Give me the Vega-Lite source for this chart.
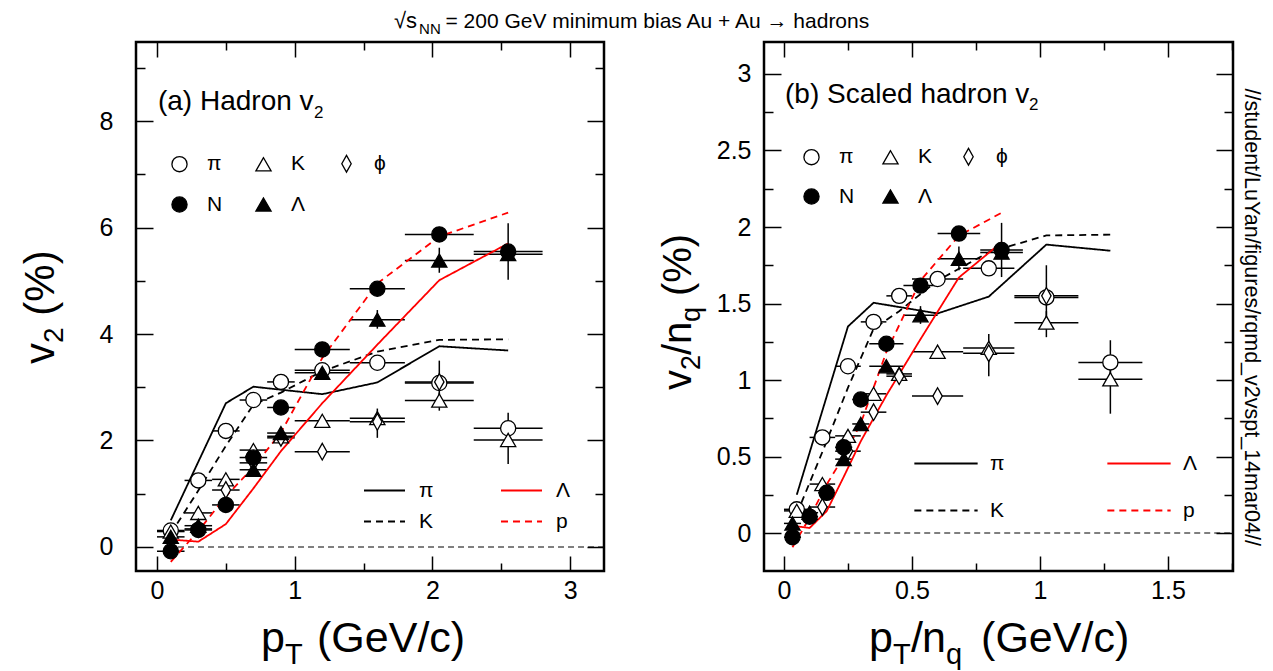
{
"$schema": "https://vega.github.io/schema/vega-lite/v6.json",
"background": "white",
"padding": {"left": 18, "top": 8, "right": 5, "bottom": 5},
"spacing": 160,
"bounds": "flush",
"datasets": {
"pts": [
{"h":"π","pt":0.1,"v2":0.31,"lo":0,"hi":0.2,"ptn":0.05,"v2n":0.155,"lon":0,"hin":0.1},
{"h":"π","pt":0.3,"v2":1.25,"lo":0.2,"hi":0.4,"ptn":0.15,"v2n":0.625,"lon":0.1,"hin":0.2},
{"h":"π","pt":0.5,"v2":2.18,"lo":0.4,"hi":0.6,"ptn":0.25,"v2n":1.09,"lon":0.2,"hin":0.3},
{"h":"π","pt":0.7,"v2":2.76,"lo":0.6,"hi":0.8,"ptn":0.35,"v2n":1.38,"lon":0.3,"hin":0.4},
{"h":"π","pt":0.9,"v2":3.1,"lo":0.8,"hi":1.0,"ptn":0.45,"v2n":1.55,"lon":0.4,"hin":0.5},
{"h":"π","pt":1.2,"v2":3.32,"lo":1.0,"hi":1.4,"ptn":0.6,"v2n":1.66,"lon":0.5,"hin":0.7},
{"h":"π","pt":1.6,"v2":3.46,"lo":1.4,"hi":1.8,"ptn":0.8,"v2n":1.73,"lon":0.7,"hin":0.9},
{"h":"π","pt":2.05,"v2":3.08,"lo":1.8,"hi":2.3,"ptn":1.025,"v2n":1.54,"lon":0.9,"hin":1.15},
{"h":"π","pt":2.55,"v2":2.23,"lo":2.3,"hi":2.8,"ptn":1.275,"v2n":1.115,"lon":1.15,"hin":1.4},
{"h":"K","pt":0.1,"v2":0.29,"lo":0,"hi":0.2,"ptn":0.05,"v2n":0.145,"lon":0,"hin":0.1},
{"h":"K","pt":0.3,"v2":0.64,"lo":0.2,"hi":0.4,"ptn":0.15,"v2n":0.32,"lon":0.1,"hin":0.2},
{"h":"K","pt":0.5,"v2":1.27,"lo":0.4,"hi":0.6,"ptn":0.25,"v2n":0.635,"lon":0.2,"hin":0.3},
{"h":"K","pt":0.7,"v2":1.82,"lo":0.6,"hi":0.8,"ptn":0.35,"v2n":0.91,"lon":0.3,"hin":0.4},
{"h":"K","pt":0.9,"v2":2.08,"lo":0.8,"hi":1.0,"ptn":0.45,"v2n":1.04,"lon":0.4,"hin":0.5},
{"h":"K","pt":1.2,"v2":2.37,"lo":1.0,"hi":1.4,"ptn":0.6,"v2n":1.185,"lon":0.5,"hin":0.7},
{"h":"K","pt":1.6,"v2":2.42,"lo":1.4,"hi":1.8,"ptn":0.8,"v2n":1.21,"lon":0.7,"hin":0.9},
{"h":"K","pt":2.05,"v2":2.75,"lo":1.8,"hi":2.3,"ptn":1.025,"v2n":1.375,"lon":0.9,"hin":1.15},
{"h":"K","pt":2.55,"v2":2.01,"lo":2.3,"hi":2.8,"ptn":1.275,"v2n":1.005,"lon":1.15,"hin":1.4},
{"h":"ϕ","pt":0.3,"v2":0.34,"lo":0.2,"hi":0.4,"ptn":0.15,"v2n":0.17,"lon":0.1,"hin":0.2},
{"h":"ϕ","pt":0.5,"v2":1.07,"lo":0.4,"hi":0.6,"ptn":0.25,"v2n":0.535,"lon":0.2,"hin":0.3},
{"h":"ϕ","pt":0.7,"v2":1.58,"lo":0.6,"hi":0.8,"ptn":0.35,"v2n":0.79,"lon":0.3,"hin":0.4},
{"h":"ϕ","pt":0.9,"v2":2.05,"lo":0.8,"hi":1.0,"ptn":0.45,"v2n":1.025,"lon":0.4,"hin":0.5},
{"h":"ϕ","pt":1.2,"v2":1.79,"lo":1.0,"hi":1.4,"ptn":0.6,"v2n":0.895,"lon":0.5,"hin":0.7},
{"h":"ϕ","pt":1.6,"v2":2.35,"lo":1.4,"hi":1.8,"ptn":0.8,"v2n":1.175,"lon":0.7,"hin":0.9},
{"h":"ϕ","pt":2.05,"v2":3.1,"lo":1.8,"hi":2.3,"ptn":1.025,"v2n":1.55,"lon":0.9,"hin":1.15},
{"h":"N","pt":0.1,"v2":-0.08,"lo":0,"hi":0.2,"ptn":0.0333,"v2n":-0.027,"lon":0,"hin":0.0667},
{"h":"N","pt":0.3,"v2":0.32,"lo":0.2,"hi":0.4,"ptn":0.1,"v2n":0.107,"lon":0.0667,"hin":0.1333},
{"h":"N","pt":0.5,"v2":0.79,"lo":0.4,"hi":0.6,"ptn":0.1667,"v2n":0.263,"lon":0.1333,"hin":0.2},
{"h":"N","pt":0.7,"v2":1.68,"lo":0.6,"hi":0.8,"ptn":0.2333,"v2n":0.56,"lon":0.2,"hin":0.2667},
{"h":"N","pt":0.9,"v2":2.62,"lo":0.8,"hi":1.0,"ptn":0.3,"v2n":0.873,"lon":0.2667,"hin":0.3333},
{"h":"N","pt":1.2,"v2":3.71,"lo":1.0,"hi":1.4,"ptn":0.4,"v2n":1.237,"lon":0.3333,"hin":0.4667},
{"h":"N","pt":1.6,"v2":4.85,"lo":1.4,"hi":1.8,"ptn":0.5333,"v2n":1.617,"lon":0.4667,"hin":0.6},
{"h":"N","pt":2.05,"v2":5.87,"lo":1.8,"hi":2.3,"ptn":0.6833,"v2n":1.957,"lon":0.6,"hin":0.7667},
{"h":"N","pt":2.55,"v2":5.55,"lo":2.3,"hi":2.8,"ptn":0.85,"v2n":1.85,"lon":0.7667,"hin":0.9333},
{"h":"Λ","pt":0.1,"v2":0.19,"lo":0,"hi":0.2,"ptn":0.0333,"v2n":0.063,"lon":0,"hin":0.0667},
{"h":"Λ","pt":0.3,"v2":0.4,"lo":0.2,"hi":0.4,"ptn":0.1,"v2n":0.133,"lon":0.0667,"hin":0.1333},
{"h":"Λ","pt":0.7,"v2":1.45,"lo":0.6,"hi":0.8,"ptn":0.2333,"v2n":0.483,"lon":0.2,"hin":0.2667},
{"h":"Λ","pt":0.9,"v2":2.14,"lo":0.8,"hi":1.0,"ptn":0.3,"v2n":0.713,"lon":0.2667,"hin":0.3333},
{"h":"Λ","pt":1.2,"v2":3.27,"lo":1.0,"hi":1.4,"ptn":0.4,"v2n":1.09,"lon":0.3333,"hin":0.4667},
{"h":"Λ","pt":1.6,"v2":4.27,"lo":1.4,"hi":1.8,"ptn":0.5333,"v2n":1.423,"lon":0.4667,"hin":0.6},
{"h":"Λ","pt":2.05,"v2":5.38,"lo":1.8,"hi":2.3,"ptn":0.6833,"v2n":1.793,"lon":0.6,"hin":0.7667},
{"h":"Λ","pt":2.55,"v2":5.5,"lo":2.3,"hi":2.8,"ptn":0.85,"v2n":1.833,"lon":0.7667,"hin":0.9333}
],
"yerr": [
{"h":"π","pt":2.05,"lo":2.75,"hi":3.5,"ptn":1.025,"lon":1.375,"hin":1.75},
{"h":"K","pt":2.05,"lo":2.56,"hi":2.9,"ptn":1.025,"lon":1.28,"hin":1.45},
{"h":"π","pt":2.55,"lo":2.0,"hi":2.52,"ptn":1.275,"lon":1.0,"hin":1.26},
{"h":"K","pt":2.55,"lo":1.56,"hi":2.2,"ptn":1.275,"lon":0.78,"hin":1.1},
{"h":"ϕ","pt":1.6,"lo":2.05,"hi":2.6,"ptn":0.8,"lon":1.025,"hin":1.3},
{"h":"N","pt":2.55,"lo":5.02,"hi":6.08,"ptn":0.85,"lon":1.673,"hin":2.027},
{"h":"Λ","pt":2.05,"lo":5.15,"hi":5.62,"ptn":0.6833,"lon":1.717,"hin":1.873},
{"h":"Λ","pt":1.6,"lo":4.1,"hi":4.45,"ptn":0.5333,"lon":1.367,"hin":1.483}
],
"models": [
{"m":"π","pt":0.1,"v2":0.5,"ptn":0.05,"v2n":0.25},
{"m":"π","pt":0.3,"v2":1.6,"ptn":0.15,"v2n":0.8},
{"m":"π","pt":0.5,"v2":2.7,"ptn":0.25,"v2n":1.35},
{"m":"π","pt":0.7,"v2":3.01,"ptn":0.35,"v2n":1.505},
{"m":"π","pt":1.2,"v2":2.87,"ptn":0.6,"v2n":1.435},
{"m":"π","pt":1.6,"v2":3.09,"ptn":0.8,"v2n":1.545},
{"m":"π","pt":2.05,"v2":3.77,"ptn":1.025,"v2n":1.885},
{"m":"π","pt":2.55,"v2":3.69,"ptn":1.275,"v2n":1.845},
{"m":"K","pt":0.1,"v2":0.25,"ptn":0.05,"v2n":0.125},
{"m":"K","pt":0.3,"v2":1.06,"ptn":0.15,"v2n":0.53},
{"m":"K","pt":0.5,"v2":1.9,"ptn":0.25,"v2n":0.95},
{"m":"K","pt":0.7,"v2":2.67,"ptn":0.35,"v2n":1.335},
{"m":"K","pt":0.9,"v2":2.9,"ptn":0.45,"v2n":1.45},
{"m":"K","pt":1.2,"v2":3.3,"ptn":0.6,"v2n":1.65},
{"m":"K","pt":1.6,"v2":3.67,"ptn":0.8,"v2n":1.835},
{"m":"K","pt":2.05,"v2":3.89,"ptn":1.025,"v2n":1.945},
{"m":"K","pt":2.55,"v2":3.9,"ptn":1.275,"v2n":1.95},
{"m":"Λ","pt":0.1,"v2":0.14,"ptn":0.0333,"v2n":0.047},
{"m":"Λ","pt":0.3,"v2":0.1,"ptn":0.1,"v2n":0.033},
{"m":"Λ","pt":0.5,"v2":0.43,"ptn":0.1667,"v2n":0.143},
{"m":"Λ","pt":0.7,"v2":1.1,"ptn":0.2333,"v2n":0.367},
{"m":"Λ","pt":0.9,"v2":1.8,"ptn":0.3,"v2n":0.6},
{"m":"Λ","pt":1.2,"v2":2.7,"ptn":0.4,"v2n":0.9},
{"m":"Λ","pt":1.6,"v2":3.8,"ptn":0.5333,"v2n":1.267},
{"m":"Λ","pt":2.05,"v2":5.01,"ptn":0.6833,"v2n":1.67},
{"m":"Λ","pt":2.55,"v2":5.7,"ptn":0.85,"v2n":1.9},
{"m":"p","pt":0.1,"v2":-0.28,"ptn":0.0333,"v2n":-0.093},
{"m":"p","pt":0.3,"v2":0.3,"ptn":0.1,"v2n":0.1},
{"m":"p","pt":0.5,"v2":0.95,"ptn":0.1667,"v2n":0.317},
{"m":"p","pt":0.7,"v2":1.5,"ptn":0.2333,"v2n":0.5},
{"m":"p","pt":0.9,"v2":2.15,"ptn":0.3,"v2n":0.717},
{"m":"p","pt":1.2,"v2":3.55,"ptn":0.4,"v2n":1.183},
{"m":"p","pt":1.6,"v2":4.95,"ptn":0.5333,"v2n":1.65},
{"m":"p","pt":2.05,"v2":5.83,"ptn":0.6833,"v2n":1.943},
{"m":"p","pt":2.55,"v2":6.28,"ptn":0.85,"v2n":2.093}
]
},
"resolve": {
 "scale": {"x":"independent","y":"independent","color":"independent","strokeDash":"independent","shape":"independent","fill":"independent","stroke":"independent"},
 "legend": {"color":"independent","strokeDash":"independent","shape":"independent","fill":"independent","stroke":"independent"}
},
"hconcat": [
{
"width": 468, "height": 529,
"resolve": {"axis": {"x":"independent","y":"independent"}},
"layer": [
{"data":{"name":"pts"},"mark":{"type":"point","opacity":0},
 "encoding":{
  "x":{"field":"pt","type":"quantitative","scale":{"domain":[-0.1525,3.246],"nice":false,"zero":false},
   "axis":{"orient":"top","values":[0,0.5,1,1.5,2,2.5,3],"labels":false,"title":null,"domain":false,"grid":false,"tickColor":"black","tickWidth":1.5,"tickSize":{"condition":{"test":"datum.value % 1 === 0","value":-15},"value":-8}}},
  "y":{"field":"v2","type":"quantitative","scale":{"domain":[-0.451,9.484],"nice":false,"zero":false},
   "axis":{"orient":"right","values":[0,1,2,3,4,5,6,7,8,9],"labels":false,"title":null,"domain":false,"grid":false,"tickColor":"black","tickWidth":1.5,"tickSize":{"condition":{"test":"datum.value % 2 === 0","value":-17},"value":-9}}}}},
{"data":{"values":[{}]},"mark":{"type":"rule","color":"black","strokeWidth":1.1,"strokeDash":[6,4]},
 "encoding":{
  "x":{"datum":0.08,"type":"quantitative","scale":{"domain":[-0.1525,3.246],"nice":false,"zero":false},"axis":null},
  "x2":{"datum":3.246},
  "y":{"datum":0,"type":"quantitative","scale":{"domain":[-0.451,9.484],"nice":false,"zero":false},"axis":null}}},
{"data":{"name":"pts"},"mark":{"type":"rule","color":"black","strokeWidth":1.5},
 "encoding":{
  "x":{"field":"lo","type":"quantitative","scale":{"domain":[-0.1525,3.246],"nice":false,"zero":false},"axis":null},
  "x2":{"field":"hi"},
  "y":{"field":"v2","type":"quantitative","scale":{"domain":[-0.451,9.484],"nice":false,"zero":false},"axis":null}}},
{"data":{"name":"yerr"},"mark":{"type":"rule","color":"black","strokeWidth":1.5},
 "encoding":{
  "x":{"field":"pt","type":"quantitative","scale":{"domain":[-0.1525,3.246],"nice":false,"zero":false},"axis":null},
  "y":{"field":"lo","type":"quantitative","scale":{"domain":[-0.451,9.484],"nice":false,"zero":false},"axis":null},
  "y2":{"field":"hi"}}},
{"data":{"name":"models"},"mark":{"type":"line","strokeWidth":1.8},
 "encoding":{
  "x":{"field":"pt","type":"quantitative","scale":{"domain":[-0.1525,3.246],"nice":false,"zero":false},"axis":null},
  "y":{"field":"v2","type":"quantitative","scale":{"domain":[-0.451,9.484],"nice":false,"zero":false},"axis":null},
  "color":{"field":"m","type":"nominal","scale":{"domain":["π","Λ","K","p"],"range":["black","#ff0000","black","#ff0000"]},
   "legend":{"orient":"none","legendX":227,"legendY":438,"direction":"horizontal","columns":2,"title":null,"symbolType":"stroke","symbolSize":1681,"symbolStrokeWidth":2,"labelFontSize":21,"labelOffset":13,"columnPadding":66,"rowPadding":9,"clipHeight":21,"padding":0}},
  "strokeDash":{"field":"m","type":"nominal","scale":{"domain":["π","Λ","K","p"],"range":[[1,0],[1,0],[7,5],[7,5]]},
   "legend":{"orient":"none","legendX":227,"legendY":438,"direction":"horizontal","columns":2,"title":null,"symbolType":"stroke","symbolSize":1681,"symbolStrokeWidth":2,"labelFontSize":21,"labelOffset":13,"columnPadding":66,"rowPadding":9,"clipHeight":21,"padding":0}}}},
{"data":{"name":"pts"},"mark":{"type":"point","filled":true,"strokeWidth":1.3,"size":230,"opacity":1},
 "encoding":{
  "x":{"field":"pt","type":"quantitative","scale":{"domain":[-0.1525,3.246],"nice":false,"zero":false},
   "axis":{"orient":"bottom","values":[0,0.5,1,1.5,2,2.5,3],"title":null,"format":"~g","labelExpr":"datum.value % 1 === 0 ? datum.label : ''","labelFontSize":25,"labelPadding":22,"labelFlush":false,"labelOverlap":false,"domain":false,"grid":false,"tickColor":"black","tickWidth":1.5,"tickSize":{"condition":{"test":"datum.value % 1 === 0","value":-15},"value":-8}}},
  "y":{"field":"v2","type":"quantitative","scale":{"domain":[-0.451,9.484],"nice":false,"zero":false},
   "axis":{"orient":"left","values":[0,1,2,3,4,5,6,7,8,9],"title":null,"format":"~g","labelExpr":"datum.value % 2 === 0 ? datum.label : ''","labelFontSize":25,"labelPadding":40,"labelFlush":false,"labelOverlap":false,"domain":false,"grid":false,"tickColor":"black","tickWidth":1.5,"tickSize":{"condition":{"test":"datum.value % 2 === 0","value":-17},"value":-9}}},
  "shape":{"field":"h","type":"nominal","scale":{"domain":["π","K","ϕ","N","Λ"],"range":["circle","triangle-up","M0,-1.1L0.62,0L0,1.1L-0.62,0Z","circle","triangle-up"]},
   "legend":{"orient":"none","legendX":33,"legendY":111,"direction":"horizontal","columns":3,"title":null,"symbolSize":230,"symbolStrokeWidth":1.3,"labelFontSize":21,"labelOffset":17,"columnPadding":30,"rowPadding":18,"padding":0}},
  "fill":{"field":"h","type":"nominal","scale":{"domain":["π","K","ϕ","N","Λ"],"range":["white","white","white","black","black"]},
   "legend":{"orient":"none","legendX":33,"legendY":111,"direction":"horizontal","columns":3,"title":null,"symbolSize":230,"symbolStrokeWidth":1.3,"labelFontSize":21,"labelOffset":17,"columnPadding":30,"rowPadding":18,"padding":0}},
  "stroke":{"field":"h","type":"nominal","scale":{"domain":["π","K","ϕ","N","Λ"],"range":["black","black","black","black","black"]},
   "legend":{"orient":"none","legendX":33,"legendY":111,"direction":"horizontal","columns":3,"title":null,"symbolSize":230,"symbolStrokeWidth":1.3,"labelFontSize":21,"labelOffset":17,"columnPadding":30,"rowPadding":18,"padding":0}}}},
{"data":{"values":[{}]},"mark":{"type":"text","text":"√s","fontSize":22,"align":"left","baseline":"alphabetic"},
 "encoding":{"x":{"datum":1.721,"type":"quantitative","scale":{"domain":[-0.1525,3.246],"nice":false,"zero":false},"axis":null},"y":{"datum":9.746,"type":"quantitative","scale":{"domain":[-0.451,9.484],"nice":false,"zero":false},"axis":null}}},
{"data":{"values":[{}]},"mark":{"type":"text","text":"NN","fontSize":15,"align":"left","baseline":"alphabetic"},
 "encoding":{"x":{"datum":1.903,"type":"quantitative","scale":{"domain":[-0.1525,3.246],"nice":false,"zero":false},"axis":null},"y":{"datum":9.634,"type":"quantitative","scale":{"domain":[-0.451,9.484],"nice":false,"zero":false},"axis":null}}},
{"data":{"values":[{}]},"mark":{"type":"text","text":"= 200 GeV minimum bias Au + Au → hadrons","fontSize":21,"align":"left","baseline":"alphabetic"},
 "encoding":{"x":{"datum":2.095,"type":"quantitative","scale":{"domain":[-0.1525,3.246],"nice":false,"zero":false},"axis":null},"y":{"datum":9.746,"type":"quantitative","scale":{"domain":[-0.451,9.484],"nice":false,"zero":false},"axis":null}}},
{"data":{"values":[{}]},"mark":{"type":"text","text":"(a) Hadron v","fontSize":28,"align":"left","baseline":"alphabetic"},
 "encoding":{"x":{"datum":0.007,"type":"quantitative","scale":{"domain":[-0.1525,3.246],"nice":false,"zero":false},"axis":null},"y":{"datum":8.2,"type":"quantitative","scale":{"domain":[-0.451,9.484],"nice":false,"zero":false},"axis":null}}},
{"data":{"values":[{}]},"mark":{"type":"text","text":"2","fontSize":17,"align":"left","baseline":"alphabetic"},
 "encoding":{"x":{"datum":1.14,"type":"quantitative","scale":{"domain":[-0.1525,3.246],"nice":false,"zero":false},"axis":null},"y":{"datum":8.056,"type":"quantitative","scale":{"domain":[-0.451,9.484],"nice":false,"zero":false},"axis":null}}},
{"data":{"values":[{}]},"mark":{"type":"text","text":"p","fontSize":43,"align":"left","baseline":"alphabetic"},
 "encoding":{"x":{"datum":0.755,"type":"quantitative","scale":{"domain":[-0.1525,3.246],"nice":false,"zero":false},"axis":null},"y":{"datum":-1.972,"type":"quantitative","scale":{"domain":[-0.451,9.484],"nice":false,"zero":false},"axis":null}}},
{"data":{"values":[{}]},"mark":{"type":"text","text":"T","fontSize":29,"align":"left","baseline":"alphabetic"},
 "encoding":{"x":{"datum":0.93,"type":"quantitative","scale":{"domain":[-0.1525,3.246],"nice":false,"zero":false},"axis":null},"y":{"datum":-2.197,"type":"quantitative","scale":{"domain":[-0.451,9.484],"nice":false,"zero":false},"axis":null}}},
{"data":{"values":[{}]},"mark":{"type":"text","text":"(GeV/c)","fontSize":43,"align":"left","baseline":"alphabetic"},
 "encoding":{"x":{"datum":1.162,"type":"quantitative","scale":{"domain":[-0.1525,3.246],"nice":false,"zero":false},"axis":null},"y":{"datum":-1.972,"type":"quantitative","scale":{"domain":[-0.451,9.484],"nice":false,"zero":false},"axis":null}}},
{"data":{"values":[{}]},"mark":{"type":"text","text":"v","fontSize":42,"angle":270,"align":"left","baseline":"alphabetic"},
 "encoding":{"x":{"datum":-0.748,"type":"quantitative","scale":{"domain":[-0.1525,3.246],"nice":false,"zero":false},"axis":null},"y":{"datum":3.437,"type":"quantitative","scale":{"domain":[-0.451,9.484],"nice":false,"zero":false},"axis":null}}},
{"data":{"values":[{}]},"mark":{"type":"text","text":"2","fontSize":28,"angle":270,"align":"left","baseline":"alphabetic"},
 "encoding":{"x":{"datum":-0.68,"type":"quantitative","scale":{"domain":[-0.1525,3.246],"nice":false,"zero":false},"axis":null},"y":{"datum":3.831,"type":"quantitative","scale":{"domain":[-0.451,9.484],"nice":false,"zero":false},"axis":null}}},
{"data":{"values":[{}]},"mark":{"type":"text","text":"(%)","fontSize":42,"angle":270,"align":"left","baseline":"alphabetic"},
 "encoding":{"x":{"datum":-0.748,"type":"quantitative","scale":{"domain":[-0.1525,3.246],"nice":false,"zero":false},"axis":null},"y":{"datum":4.345,"type":"quantitative","scale":{"domain":[-0.451,9.484],"nice":false,"zero":false},"axis":null}}}
]
},
{
"width": 469, "height": 529,
"resolve": {"axis": {"x":"independent","y":"independent"}},
"layer": [
{"data":{"name":"pts"},"mark":{"type":"point","opacity":0},
 "encoding":{
  "x":{"field":"ptn","type":"quantitative","scale":{"domain":[-0.078,1.754],"nice":false,"zero":false},
   "axis":{"orient":"top","values":[0,0.25,0.5,0.75,1,1.25,1.5,1.75],"labels":false,"title":null,"domain":false,"grid":false,"tickColor":"black","tickWidth":1.5,"tickSize":{"condition":{"test":"datum.value % 0.5 === 0","value":-15},"value":-8}}},
  "y":{"field":"v2n","type":"quantitative","scale":{"domain":[-0.248,3.209],"nice":false,"zero":false},
   "axis":{"orient":"right","values":[0,0.25,0.5,0.75,1,1.25,1.5,1.75,2,2.25,2.5,2.75,3],"labels":false,"title":null,"domain":false,"grid":false,"tickColor":"black","tickWidth":1.5,"tickSize":{"condition":{"test":"datum.value % 0.5 === 0","value":-17},"value":-9}}}}},
{"data":{"values":[{}]},"mark":{"type":"rule","color":"black","strokeWidth":1.1,"strokeDash":[6,4]},
 "encoding":{
  "x":{"datum":0.04,"type":"quantitative","scale":{"domain":[-0.078,1.754],"nice":false,"zero":false},"axis":null},
  "x2":{"datum":1.754},
  "y":{"datum":0,"type":"quantitative","scale":{"domain":[-0.248,3.209],"nice":false,"zero":false},"axis":null}}},
{"data":{"name":"pts"},"mark":{"type":"rule","color":"black","strokeWidth":1.5},
 "encoding":{
  "x":{"field":"lon","type":"quantitative","scale":{"domain":[-0.078,1.754],"nice":false,"zero":false},"axis":null},
  "x2":{"field":"hin"},
  "y":{"field":"v2n","type":"quantitative","scale":{"domain":[-0.248,3.209],"nice":false,"zero":false},"axis":null}}},
{"data":{"name":"yerr"},"mark":{"type":"rule","color":"black","strokeWidth":1.5},
 "encoding":{
  "x":{"field":"ptn","type":"quantitative","scale":{"domain":[-0.078,1.754],"nice":false,"zero":false},"axis":null},
  "y":{"field":"lon","type":"quantitative","scale":{"domain":[-0.248,3.209],"nice":false,"zero":false},"axis":null},
  "y2":{"field":"hin"}}},
{"data":{"name":"models"},"mark":{"type":"line","strokeWidth":1.8},
 "encoding":{
  "x":{"field":"ptn","type":"quantitative","scale":{"domain":[-0.078,1.754],"nice":false,"zero":false},"axis":null},
  "y":{"field":"v2n","type":"quantitative","scale":{"domain":[-0.248,3.209],"nice":false,"zero":false},"axis":null},
  "color":{"field":"m","type":"nominal","scale":{"domain":["π","Λ","K","p"],"range":["black","#ff0000","black","#ff0000"]},
   "legend":{"orient":"none","legendX":149,"legendY":411,"direction":"horizontal","columns":2,"title":null,"symbolType":"stroke","symbolSize":4007,"symbolStrokeWidth":2,"labelFontSize":21,"labelOffset":11,"columnPadding":101,"rowPadding":25,"clipHeight":21,"padding":0}},
  "strokeDash":{"field":"m","type":"nominal","scale":{"domain":["π","Λ","K","p"],"range":[[1,0],[1,0],[7,5],[7,5]]},
   "legend":{"orient":"none","legendX":149,"legendY":411,"direction":"horizontal","columns":2,"title":null,"symbolType":"stroke","symbolSize":4007,"symbolStrokeWidth":2,"labelFontSize":21,"labelOffset":11,"columnPadding":101,"rowPadding":25,"clipHeight":21,"padding":0}}}},
{"data":{"name":"pts"},"mark":{"type":"point","filled":true,"strokeWidth":1.3,"size":230,"opacity":1},
 "encoding":{
  "x":{"field":"ptn","type":"quantitative","scale":{"domain":[-0.078,1.754],"nice":false,"zero":false},
   "axis":{"orient":"bottom","values":[0,0.25,0.5,0.75,1,1.25,1.5,1.75],"title":null,"format":"~g","labelExpr":"datum.value % 0.5 === 0 ? datum.label : ''","labelFontSize":25,"labelPadding":22,"labelFlush":false,"labelOverlap":false,"domain":false,"grid":false,"tickColor":"black","tickWidth":1.5,"tickSize":{"condition":{"test":"datum.value % 0.5 === 0","value":-15},"value":-8}}},
  "y":{"field":"v2n","type":"quantitative","scale":{"domain":[-0.248,3.209],"nice":false,"zero":false},
   "axis":{"orient":"left","values":[0,0.25,0.5,0.75,1,1.25,1.5,1.75,2,2.25,2.5,2.75,3],"title":null,"format":"~g","labelExpr":"datum.value % 0.5 === 0 ? datum.label : ''","labelFontSize":25,"labelPadding":30,"labelFlush":false,"labelOverlap":false,"domain":false,"grid":false,"tickColor":"black","tickWidth":1.5,"tickSize":{"condition":{"test":"datum.value % 0.5 === 0","value":-17},"value":-9}}},
  "shape":{"field":"h","type":"nominal","scale":{"domain":["π","K","ϕ","N","Λ"],"range":["circle","triangle-up","M0,-1.1L0.62,0L0,1.1L-0.62,0Z","circle","triangle-up"]},
   "legend":{"orient":"none","legendX":37,"legendY":104,"direction":"horizontal","columns":3,"title":null,"symbolSize":230,"symbolStrokeWidth":1.3,"labelFontSize":21,"labelOffset":17,"columnPadding":25,"rowPadding":17,"padding":0}},
  "fill":{"field":"h","type":"nominal","scale":{"domain":["π","K","ϕ","N","Λ"],"range":["white","white","white","black","black"]},
   "legend":{"orient":"none","legendX":37,"legendY":104,"direction":"horizontal","columns":3,"title":null,"symbolSize":230,"symbolStrokeWidth":1.3,"labelFontSize":21,"labelOffset":17,"columnPadding":25,"rowPadding":17,"padding":0}},
  "stroke":{"field":"h","type":"nominal","scale":{"domain":["π","K","ϕ","N","Λ"],"range":["black","black","black","black","black"]},
   "legend":{"orient":"none","legendX":37,"legendY":104,"direction":"horizontal","columns":3,"title":null,"symbolSize":230,"symbolStrokeWidth":1.3,"labelFontSize":21,"labelOffset":17,"columnPadding":25,"rowPadding":17,"padding":0}}}},
{"data":{"values":[{}]},"mark":{"type":"text","text":"(b) Scaled hadron v","fontSize":28,"align":"left","baseline":"alphabetic"},
 "encoding":{"x":{"datum":0.004,"type":"quantitative","scale":{"domain":[-0.078,1.754],"nice":false,"zero":false},"axis":null},"y":{"datum":2.81,"type":"quantitative","scale":{"domain":[-0.248,3.209],"nice":false,"zero":false},"axis":null}}},
{"data":{"values":[{}]},"mark":{"type":"text","text":"2","fontSize":17,"align":"left","baseline":"alphabetic"},
 "encoding":{"x":{"datum":0.957,"type":"quantitative","scale":{"domain":[-0.078,1.754],"nice":false,"zero":false},"axis":null},"y":{"datum":2.765,"type":"quantitative","scale":{"domain":[-0.248,3.209],"nice":false,"zero":false},"axis":null}}},
{"data":{"values":[{}]},"mark":{"type":"text","text":"p","fontSize":43,"align":"left","baseline":"alphabetic"},
 "encoding":{"x":{"datum":0.332,"type":"quantitative","scale":{"domain":[-0.078,1.754],"nice":false,"zero":false},"axis":null},"y":{"datum":-0.778,"type":"quantitative","scale":{"domain":[-0.248,3.209],"nice":false,"zero":false},"axis":null}}},
{"data":{"values":[{}]},"mark":{"type":"text","text":"T","fontSize":29,"align":"left","baseline":"alphabetic"},
 "encoding":{"x":{"datum":0.426,"type":"quantitative","scale":{"domain":[-0.078,1.754],"nice":false,"zero":false},"axis":null},"y":{"datum":-0.856,"type":"quantitative","scale":{"domain":[-0.248,3.209],"nice":false,"zero":false},"axis":null}}},
{"data":{"values":[{}]},"mark":{"type":"text","text":"/","fontSize":43,"align":"left","baseline":"alphabetic"},
 "encoding":{"x":{"datum":0.496,"type":"quantitative","scale":{"domain":[-0.078,1.754],"nice":false,"zero":false},"axis":null},"y":{"datum":-0.778,"type":"quantitative","scale":{"domain":[-0.248,3.209],"nice":false,"zero":false},"axis":null}}},
{"data":{"values":[{}]},"mark":{"type":"text","text":"n","fontSize":43,"align":"left","baseline":"alphabetic"},
 "encoding":{"x":{"datum":0.539,"type":"quantitative","scale":{"domain":[-0.078,1.754],"nice":false,"zero":false},"axis":null},"y":{"datum":-0.778,"type":"quantitative","scale":{"domain":[-0.248,3.209],"nice":false,"zero":false},"axis":null}}},
{"data":{"values":[{}]},"mark":{"type":"text","text":"q","fontSize":29,"align":"left","baseline":"alphabetic"},
 "encoding":{"x":{"datum":0.633,"type":"quantitative","scale":{"domain":[-0.078,1.754],"nice":false,"zero":false},"axis":null},"y":{"datum":-0.856,"type":"quantitative","scale":{"domain":[-0.248,3.209],"nice":false,"zero":false},"axis":null}}},
{"data":{"values":[{}]},"mark":{"type":"text","text":"(GeV/c)","fontSize":43,"align":"left","baseline":"alphabetic"},
 "encoding":{"x":{"datum":0.77,"type":"quantitative","scale":{"domain":[-0.078,1.754],"nice":false,"zero":false},"axis":null},"y":{"datum":-0.778,"type":"quantitative","scale":{"domain":[-0.248,3.209],"nice":false,"zero":false},"axis":null}}},
{"data":{"values":[{}]},"mark":{"type":"text","text":"v","fontSize":40,"angle":270,"align":"left","baseline":"alphabetic"},
 "encoding":{"x":{"datum":-0.363,"type":"quantitative","scale":{"domain":[-0.078,1.754],"nice":false,"zero":false},"axis":null},"y":{"datum":0.935,"type":"quantitative","scale":{"domain":[-0.248,3.209],"nice":false,"zero":false},"axis":null}}},
{"data":{"values":[{}]},"mark":{"type":"text","text":"2","fontSize":27,"angle":270,"align":"left","baseline":"alphabetic"},
 "encoding":{"x":{"datum":-0.328,"type":"quantitative","scale":{"domain":[-0.078,1.754],"nice":false,"zero":false},"axis":null},"y":{"datum":1.065,"type":"quantitative","scale":{"domain":[-0.248,3.209],"nice":false,"zero":false},"axis":null}}},
{"data":{"values":[{}]},"mark":{"type":"text","text":"/","fontSize":40,"angle":270,"align":"left","baseline":"alphabetic"},
 "encoding":{"x":{"datum":-0.363,"type":"quantitative","scale":{"domain":[-0.078,1.754],"nice":false,"zero":false},"axis":null},"y":{"datum":1.163,"type":"quantitative","scale":{"domain":[-0.248,3.209],"nice":false,"zero":false},"axis":null}}},
{"data":{"values":[{}]},"mark":{"type":"text","text":"n","fontSize":40,"angle":270,"align":"left","baseline":"alphabetic"},
 "encoding":{"x":{"datum":-0.363,"type":"quantitative","scale":{"domain":[-0.078,1.754],"nice":false,"zero":false},"axis":null},"y":{"datum":1.235,"type":"quantitative","scale":{"domain":[-0.248,3.209],"nice":false,"zero":false},"axis":null}}},
{"data":{"values":[{}]},"mark":{"type":"text","text":"q","fontSize":27,"angle":270,"align":"left","baseline":"alphabetic"},
 "encoding":{"x":{"datum":-0.328,"type":"quantitative","scale":{"domain":[-0.078,1.754],"nice":false,"zero":false},"axis":null},"y":{"datum":1.379,"type":"quantitative","scale":{"domain":[-0.248,3.209],"nice":false,"zero":false},"axis":null}}},
{"data":{"values":[{}]},"mark":{"type":"text","text":"(%)","fontSize":40,"angle":270,"align":"left","baseline":"alphabetic"},
 "encoding":{"x":{"datum":-0.363,"type":"quantitative","scale":{"domain":[-0.078,1.754],"nice":false,"zero":false},"axis":null},"y":{"datum":1.549,"type":"quantitative","scale":{"domain":[-0.248,3.209],"nice":false,"zero":false},"axis":null}}},
{"data":{"values":[{}]},"mark":{"type":"text","text":"//student/LuYan/figures/rqmd_v2vspt_14mar04//","fontSize":21.5,"angle":90,"align":"center","baseline":"middle"},
 "encoding":{"x":{"datum":1.824,"type":"quantitative","scale":{"domain":[-0.078,1.754],"nice":false,"zero":false},"axis":null},"y":{"datum":1.41,"type":"quantitative","scale":{"domain":[-0.248,3.209],"nice":false,"zero":false},"axis":null}}}
]
}
],
"config": {
 "view": {"stroke": "black", "strokeWidth": 2.5},
 "font": "Liberation Sans",
 "axis": {"labelFont": "Liberation Sans", "labelColor": "black"},
 "legend": {"labelFont": "Liberation Sans", "labelColor": "black", "labelLimit": 200},
 "text": {"font": "Liberation Sans", "color": "black"}
}
}
